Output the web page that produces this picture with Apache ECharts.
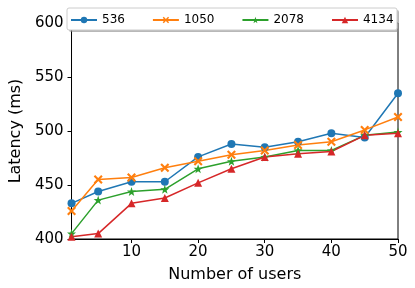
<!DOCTYPE html>
<html><head><meta charset="utf-8">
<script src="https://cdn.jsdelivr.net/npm/echarts@6/dist/echarts.min.js"></script>
<style>html,body{margin:0;padding:0;background:#fff}#c{width:415px;height:288px}</style>
</head><body><div id="c"></div>
<script>
const users = [1, 5, 10, 15, 20, 25, 30, 35, 40, 45, 50];
const s536  = [433, 444, 453, 453, 476, 488, 485, 490, 498, 494, 535];
const s1050 = [426, 455, 457, 466, 472, 478, 482, 487, 490, 501, 513];
const s2078 = [405, 436, 444, 446, 465, 472, 476, 482, 482, 496, 499];
const s4134 = [402, 405, 433, 438, 452, 465, 476, 479, 481, 496, 498];
const seriesNames = ['536', '1050', '2078', '4134'];
const xTicks = [10, 20, 30, 40, 50];
const yTicks = [400, 450, 500, 550, 600];

const colors = ['#1f77b4', '#ff7f0e', '#2ca02c', '#d62728'];
const symbols = ['circle',
  'path://M-2,-3 L0,-1 L2,-3 L3,-2 L1,0 L3,2 L2,3 L0,1 L-2,3 L-3,2 L-1,0 L-3,-2 Z',
  'path://M0,-5 L1.2,-1.6 L4.8,-1.5 L1.9,0.6 L2.9,4 L0,2 L-2.9,4 L-1.9,0.6 L-4.8,-1.5 L-1.2,-1.6 Z',
  'triangle'];
const symSizes = [8, 9, 9, 8];
const datas = [s536, s1050, s2078, s4134];

const chart = echarts.init(document.getElementById('c'), null, {renderer: 'canvas'});
const font = 'DejaVu Sans';
chart.setOption({
  animation: false,
  textStyle: {fontFamily: font},
  grid: {left: 65, right: 17, top: 23, bottom: 48, show: true, borderColor: '#000', borderWidth: 1, backgroundColor: 'transparent'},
  graphic: [
    {type: 'rect', shape: {x: 69, y: 10, width: 330, height: 22, r: 2}, style: {fill: '#888', opacity: 0.6}, z: 90},
    {type: 'rect', shape: {x: 67, y: 8, width: 330, height: 22, r: 2}, style: {fill: '#fff', stroke: '#ccc', lineWidth: 1}, z: 91}
  ],
  legend: {
    data: seriesNames,
    orient: 'horizontal',
    left: 65, top: 9, width: 345, padding: [5, 5, 5, 5],
    itemWidth: 26, itemHeight: 8, itemGap: 27,
    textStyle: {fontSize: 12, color: '#000', fontFamily: font},
    z: 100
  },
  xAxis: {
    type: 'value', min: 1, max: 50,
    name: 'Number of users', nameLocation: 'middle', nameGap: 28,
    nameTextStyle: {fontSize: 16, color: '#000', fontFamily: font},
    axisLine: {lineStyle: {color: '#000', width: 1}},
    axisTick: {show: true, inside: false, length: 4, lineStyle: {color: '#000'}, customValues: xTicks},
    axisLabel: {fontSize: 15, color: '#000', fontFamily: font, margin: 6, customValues: xTicks},
    splitLine: {show: false}
  },
  yAxis: {
    type: 'value', min: 400, max: 600, interval: 50,
    name: 'Latency (ms)', nameLocation: 'middle', nameGap: 46,
    nameTextStyle: {fontSize: 16, color: '#000', fontFamily: font},
    axisLine: {show: true, lineStyle: {color: '#000', width: 1}},
    axisTick: {show: true, inside: false, length: 4, lineStyle: {color: '#000'}},
    axisLabel: {fontSize: 15, color: '#000', fontFamily: font, margin: 8},
    splitLine: {show: false}
  },
  series: seriesNames.map((n, i) => ({
    name: n, type: 'line',
    data: users.map((u, j) => [u, datas[i][j]]),
    symbol: symbols[i], symbolSize: symSizes[i], showSymbol: true,
    lineStyle: {color: colors[i], width: 1.5},
    itemStyle: {color: colors[i]},
    clip: false
  }))
});
</script></body></html>
